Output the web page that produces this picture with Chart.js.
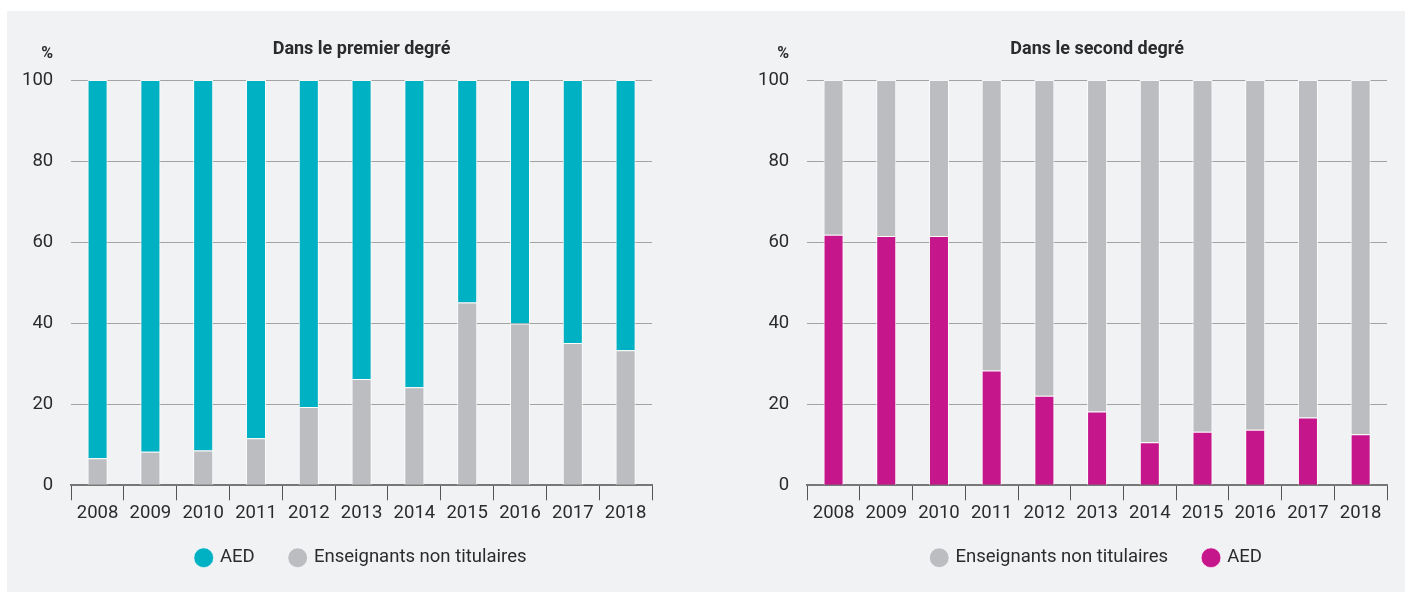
<!DOCTYPE html>
<html lang="fr">
<head>
<meta charset="utf-8">
<script src="https://cdn.jsdelivr.net/npm/chart.js@4"></script>
<style>
  body { margin: 0; background: #fff; width: 1405px; height: 592px; position: relative; overflow: hidden; }
  .panel { position: absolute; left: 7px; top: 11px; width: 1398px; height: 581px; background: #f1f2f4; }
  canvas { position: absolute; top: 11px; }
  #chartPremier { left: 0px; }
  #chartSecond { left: 705px; }
</style>
</head>
<body>
<div class="panel"></div>
<canvas id="chartPremier" width="697" height="581"></canvas>
<canvas id="chartSecond" width="700" height="581"></canvas>
<script>
const years = ['2008', '2009', '2010', '2011', '2012', '2013', '2014', '2015', '2016', '2017', '2018'];
const yTicks = [0, 20, 40, 60, 80, 100];

// Dans le premier degré (%)
const premierNonTitulaires = [6.7, 8.3, 8.6, 11.6, 19.3, 26.2, 24.2, 45.1, 39.9, 35.1, 33.3];
const premierAED = premierNonTitulaires.map(v => 100 - v);

// Dans le second degré (%)
const secondAED = [61.8, 61.5, 61.5, 28.3, 22.1, 18.2, 10.6, 13.2, 13.7, 16.7, 12.6];
const secondNonTitulaires = secondAED.map(v => 100 - v);

const TEAL = '#00b0c3';
const GREY = '#bcbdc1';
const MAGENTA = '#c6168c';
const TEXT = '#2b2b2b';
const FONT = 'Roboto';

// draws the panel title and the "%" unit above the axis
const headerPlugin = {
    id: 'header',
    afterDraw(chart, args, opts) {
        const { ctx, chartArea } = chart;
        ctx.save();
        ctx.fillStyle = TEXT;
        ctx.textBaseline = 'middle';
        ctx.font = `bold 18px ${FONT}`;
        ctx.textAlign = 'center';
        ctx.fillText(opts.text, (chartArea.left + chartArea.right) / 2, 38);
        ctx.font = `bold 16px ${FONT}`;
        ctx.textAlign = 'right';
        ctx.fillText('%', chartArea.left - 18, 43);
        ctx.restore();
    }
};

// legend padding is wide for the horizontal gap; pull the legend a bit closer to the axis
const legendShift = {
    id: 'legendShift',
    afterLayout(chart) {
        if (chart.legend) {
            chart.legend.top -= 14;
            chart.legend.bottom -= 14;
        }
    }
};

function makeChart(id, title, datasets, padding) {
    return new Chart(document.getElementById(id), {
        type: 'bar',
        data: { labels: years, datasets: datasets },
        plugins: [headerPlugin, legendShift],
        options: {
            responsive: false,
            animation: false,
            layout: { padding: padding },
            datasets: {
                bar: {
                    categoryPercentage: 1,
                    barPercentage: 0.38,
                    borderColor: 'rgba(255,255,255,0.9)',
                    borderWidth: { top: 1, left: 1, right: 1, bottom: 0 }
                }
            },
            scales: {
                x: {
                    stacked: true,
                    grid: { display: true, drawOnChartArea: false, offset: true, tickLength: 15, tickColor: '#555', tickWidth: 1 },
                    border: { display: true, color: '#777', width: 2 },
                    ticks: { color: TEXT, font: { family: FONT, size: 18.5 }, padding: 2, maxRotation: 0, autoSkip: false }
                },
                y: {
                    stacked: true,
                    min: 0,
                    max: 100,
                    afterBuildTicks: axis => { axis.ticks = yTicks.map(v => ({ value: v })); },
                    grid: { color: '#a3a3a3', lineWidth: 1, drawTicks: false },
                    border: { display: false },
                    ticks: { color: TEXT, font: { family: FONT, size: 18.5 }, padding: 18 }
                }
            },
            plugins: {
                header: { text: title },
                title: { display: false },
                tooltip: { enabled: false },
                legend: {
                    position: 'bottom',
                    fullSize: false,
                    reverse: true,
                    labels: {
                        usePointStyle: true,
                        pointStyle: 'circle',
                        boxWidth: 14,
                        boxHeight: 14,
                        padding: 36,
                        color: TEXT,
                        font: { family: FONT, size: 18.5 }
                    }
                }
            }
        }
    });
}

makeChart('chartPremier', 'Dans le premier degré', [
    { label: 'Enseignants non titulaires', data: premierNonTitulaires, backgroundColor: GREY },
    { label: 'AED', data: premierAED, backgroundColor: TEAL }
], { left: 4, right: 45, top: 69, bottom: 1 });

makeChart('chartSecond', 'Dans le second degré', [
    { label: 'AED', data: secondAED, backgroundColor: MAGENTA },
    { label: 'Enseignants non titulaires', data: secondNonTitulaires, backgroundColor: GREY }
], { left: 35, right: 18, top: 69, bottom: 1 });
</script>
</body>
</html>
